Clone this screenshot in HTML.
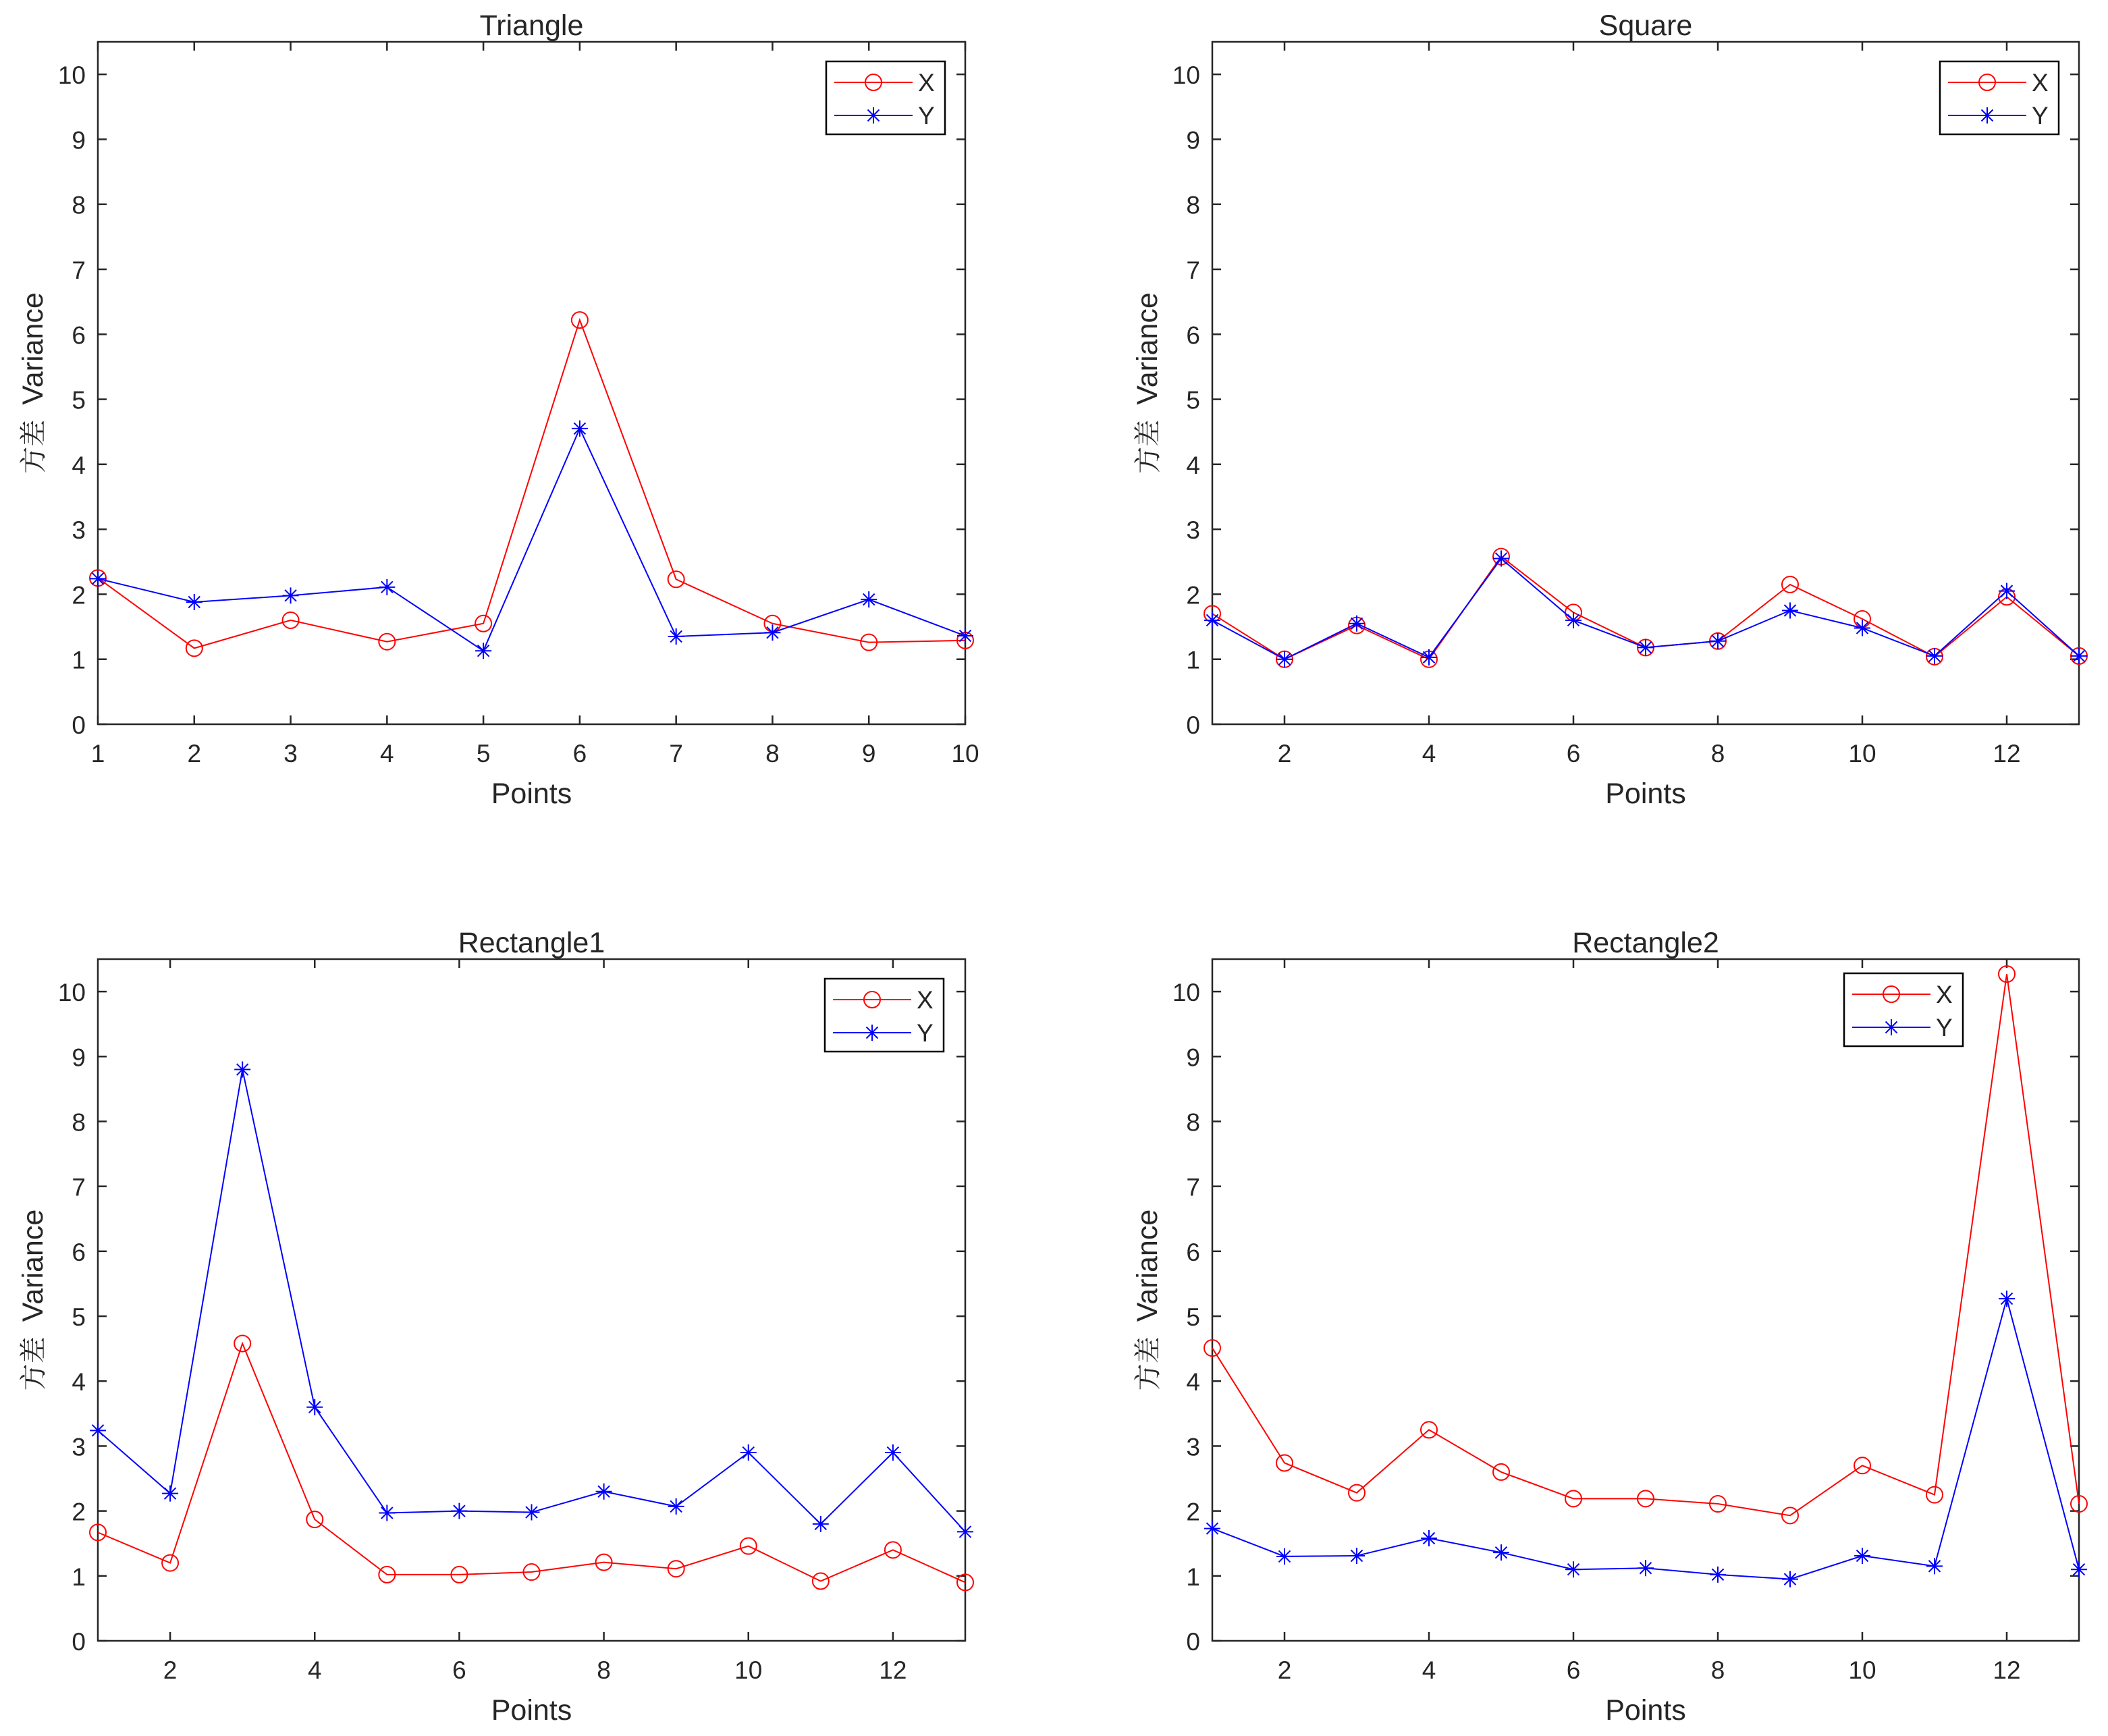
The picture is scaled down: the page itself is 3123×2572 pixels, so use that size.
<!DOCTYPE html>
<html><head><meta charset="utf-8"><style>
html,body{margin:0;padding:0;background:#fff;}
svg text{font-family:"Liberation Sans","Noto Sans CJK SC",sans-serif;fill:#262626;}
</style></head><body>
<svg id="fig" xmlns="http://www.w3.org/2000/svg" width="3123" height="2567" viewBox="0 0 3123 2567"></svg>
<script>
const triCats=[1,2,3,4,5,6,7,8,9,10];
const triX=[2.25,1.17,1.6,1.27,1.55,6.22,2.23,1.55,1.26,1.29];
const triY=[2.24,1.88,1.98,2.11,1.13,4.55,1.35,1.41,1.92,1.36];
const sqCats=[1,2,3,4,5,6,7,8,9,10,11,12,13];
const sqX=[1.7,1.0,1.52,1.0,2.58,1.72,1.18,1.28,2.15,1.62,1.04,1.96,1.05];
const sqY=[1.6,1.0,1.55,1.03,2.55,1.6,1.18,1.28,1.75,1.48,1.05,2.05,1.05];
const r1X=[1.67,1.2,4.58,1.87,1.02,1.02,1.06,1.21,1.11,1.46,0.92,1.4,0.9];
const r1Y=[3.24,2.27,8.8,3.6,1.97,2.0,1.98,2.3,2.07,2.9,1.8,2.9,1.68];
const r2X=[4.51,2.74,2.28,3.25,2.6,2.19,2.19,2.11,1.93,2.7,2.25,10.27,2.11];
const r2Y=[1.73,1.3,1.31,1.58,1.36,1.1,1.12,1.02,0.95,1.31,1.15,5.27,1.1];
const triTicks=[1,2,3,4,5,6,7,8,9,10];
const evenTicks=[2,4,6,8,10,12];
const yTicks=[0,1,2,3,4,5,6,7,8,9,10];

const NS="http://www.w3.org/2000/svg";
const fig=document.getElementById('fig');
function mk(tag,attrs,parent){const e=document.createElementNS(NS,tag);for(const k in attrs)e.setAttribute(k,attrs[k]);(parent||fig).appendChild(e);return e;}

function panel(o){
  const g=mk('g',{});
  
  
  const L=o.l,R=o.r,B=o.b,T=o.t;
  const sx=v=>L+(v-o.xmin)/(o.xmax-o.xmin)*(R-L);
  const sy=v=>B-(v-0)/(10.5-0)*(B-T);
  const box=mk('rect',{x:L,y:T,width:R-L,height:B-T,fill:'none',stroke:'#262626','stroke-width':2.5},g);
  
  
  yTicks.forEach(v=>{
    const y=sy(v);
    mk('line',{x1:L,y1:y,x2:L+13,y2:y,stroke:'#262626','stroke-width':2.5},g);
    mk('line',{x1:R,y1:y,x2:R-13,y2:y,stroke:'#262626','stroke-width':2.5},g);
    const t=mk('text',{x:L-18,y:y+14,'font-size':37,'text-anchor':'end'},g);
    t.textContent=v;
    
    
  });
  o.xt.forEach(v=>{
    const x=sx(v);
    mk('line',{x1:x,y1:B,x2:x,y2:B-13,stroke:'#262626','stroke-width':2.5},g);
    mk('line',{x1:x,y1:T,x2:x,y2:T+13,stroke:'#262626','stroke-width':2.5},g);
    const t=mk('text',{x:x,y:B+56,'font-size':37,'text-anchor':'middle'},g);
    t.textContent=v;
    
    
  });
  const ti=mk('text',{x:(L+R)/2,y:T-10,'font-size':43,'text-anchor':'middle',fill:'#000'},g);
  ti.textContent=o.title;
  
  
  const xl=mk('text',{x:(L+R)/2,y:B+117,'font-size':43,'text-anchor':'middle'},g);
  xl.textContent='Points';
  
  
  const cy=(T+B)/2;
  const yl=mk('text',{x:0,y:0,'font-size':43,'text-anchor':'middle',transform:`translate(${L-82},${cy}) rotate(-90)`},g);
  
  
  const c1=mk('tspan',{'font-family':'"Noto Serif CJK SC",serif','font-size':40},yl);
  c1.textContent='方差';
  const c2=mk('tspan',{dx:22},yl);
  c2.textContent='Variance';
  function series(vals,color,marker,nm){
    const sg=mk('g',{},g);
    
    
    const pts=vals.map((v,i)=>sx(o.cats[i])+','+sy(v)).join(' ');
    mk('polyline',{points:pts,fill:'none',stroke:color,'stroke-width':2},sg);
    vals.forEach((v,i)=>drawMarker(sg,sx(o.cats[i]),sy(v),color,marker));
  }
  series(o.xs,'#ff0000','o','series-x');
  series(o.ys,'#0000ff','*','series-y');
  const lg=mk('g',{},g);
  
  
  const lx=o.lx,ly=o.ly,lw=176,lh=108;
  mk('rect',{x:lx,y:ly,width:lw,height:lh,fill:'#fff',stroke:'#000','stroke-width':2.5},lg);
  [['X','#ff0000','o',ly+31],['Y','#0000ff','*',ly+80]].forEach(([lab,c,m,yy])=>{
    const e=mk('g',{},lg);
    
    
    mk('line',{x1:lx+12,y1:yy,x2:lx+128,y2:yy,stroke:c,'stroke-width':2},e);
    drawMarker(e,lx+70,yy,c,m);
    const t=mk('text',{x:lx+136,y:yy+13,'font-size':37,fill:'#000'},e);
    t.textContent=lab;
  });
}
function drawMarker(g,x,y,c,m){
  if(m==='o'){mk('circle',{cx:x,cy:y,r:12,fill:'none',stroke:c,'stroke-width':2},g);}
  else{
    const s=12,d=8.5;
    mk('path',{d:`M${x-s},${y}H${x+s}M${x},${y-s}V${y+s}M${x-d},${y-d}L${x+d},${y+d}M${x-d},${y+d}L${x+d},${y-d}`,stroke:c,'stroke-width':2,fill:'none'},g);
  }
}
panel({name:'panel-triangle',title:'Triangle',l:145,r:1430,t:62,b:1073,xmin:1,xmax:10,xt:triTicks,cats:triCats,xs:triX,ys:triY,lx:1224,ly:91});
panel({name:'panel-square',title:'Square',l:1796,r:3080,t:62,b:1073,xmin:1,xmax:13,xt:evenTicks,cats:sqCats,xs:sqX,ys:sqY,lx:2874,ly:91});
panel({name:'panel-rectangle1',title:'Rectangle1',l:145,r:1430,t:1421,b:2431,xmin:1,xmax:13,xt:evenTicks,cats:sqCats,xs:r1X,ys:r1Y,lx:1222,ly:1450});
panel({name:'panel-rectangle2',title:'Rectangle2',l:1796,r:3080,t:1421,b:2431,xmin:1,xmax:13,xt:evenTicks,cats:sqCats,xs:r2X,ys:r2Y,lx:2732,ly:1442});
</script>
</body></html>
